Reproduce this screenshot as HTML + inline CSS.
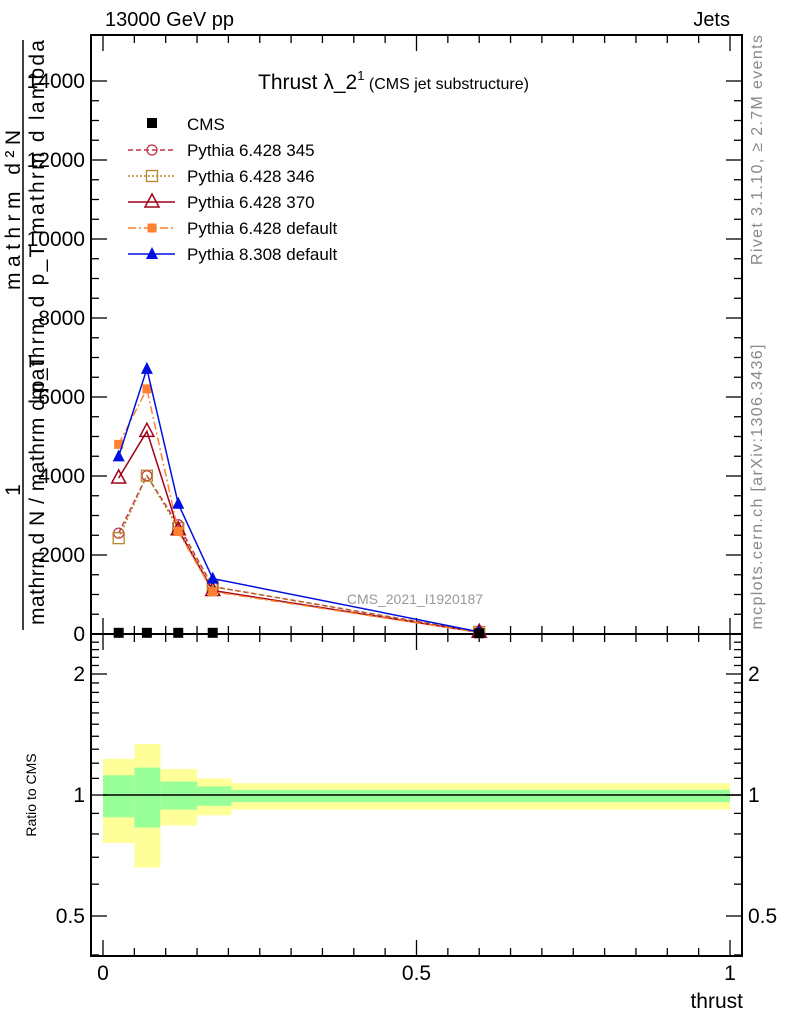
<!DOCTYPE html>
<html><head><meta charset="utf-8"><style>
html,body{margin:0;padding:0;background:#fff}
svg{display:block;font-family:"Liberation Sans",Arial,sans-serif}
</style></head><body>
<svg id="chart" width="786" height="1024" viewBox="0 0 786 1024" xmlns="http://www.w3.org/2000/svg">
<g id="bands"></g>
<g id="axes"></g>
<g id="series"></g>
<g id="legend"></g>
<text x="105" y="26" font-size="20">13000 GeV pp</text>
<text x="730" y="26" font-size="20" text-anchor="end">Jets</text>
<text x="258" y="89" font-size="21">Thrust λ_2<tspan font-size="13" dy="-9">1</tspan><tspan font-size="16" dy="9"> (CMS jet substructure)</tspan></text>
<text x="415" y="604" font-size="14" fill="#999" text-anchor="middle">CMS_2021_I1920187</text>
<text transform="translate(762,150) rotate(-90)" font-size="16" fill="#888" text-anchor="middle" textLength="230">Rivet 3.1.10, ≥ 2.7M events</text>
<text transform="translate(762,487) rotate(-90)" font-size="16" fill="#888" text-anchor="middle" textLength="285">mcplots.cern.ch [arXiv:1306.3436]</text>
<text x="743" y="1008" font-size="21" text-anchor="end">thrust</text>
<text transform="translate(36,795) rotate(-90)" font-size="14" text-anchor="middle">Ratio to CMS</text>
<g font-size="21">
<line x1="23" y1="40" x2="23" y2="630" stroke="#000" stroke-width="1.5"/>
<text transform="translate(20,490) rotate(-90)" text-anchor="middle">1</text>
<text transform="translate(44,490) rotate(-90)" text-anchor="middle" textLength="270">mathrm d N / mathrm d p_T</text>
<text transform="translate(20,210) rotate(-90)" text-anchor="middle" textLength="160">mathrm d²N</text>
<text transform="translate(44,220) rotate(-90)" text-anchor="middle" textLength="360">mathrm d p_T mathrm d lambda</text>
</g>
</svg>
<script>
const xCenters=[0.025,0.07,0.12,0.175,0.6];
const binEdges=[0,0.05,0.0915,0.15,0.205,1.0];
const cmsVals=[30,30,30,30,20];
const py345=[2554,4007,2765,1200,50];
const py346=[2427,4007,2680,1200,50];
const py370=[3949,5131,2638,1100,45];
const py6def=[4801,6206,2595,1073,40];
const py8def=[4497,6713,3297,1403,55];
const yelHi=[1.23,1.34,1.16,1.10,1.07];
const yelLo=[0.76,0.66,0.84,0.89,0.92];
const grnHi=[1.12,1.17,1.08,1.05,1.03];
const grnLo=[0.88,0.83,0.92,0.94,0.96];
const yTicks=[0,2000,4000,6000,8000,10000,12000,14000];
const yTickLabels=["0","2000","4000","6000","8000","10000","12000","14000"];
const xTicks=[0,0.5,1];
const xTickLabels=["0","0.5","1"];
const rTicks=[0.5,1,2];
const rTickLabels=["0.5","1","2"];

const NS="http://www.w3.org/2000/svg";
const L=91,R=742,T=35,MB=634,RB=956;
const X=v=>103+627*v;
const Y=v=>MB-v*(MB-81)/14000;
const RY=r=>795-121*Math.log2(r);
function el(tag,attrs,parent){const e=document.createElementNS(NS,tag);for(const k in attrs)e.setAttribute(k,attrs[k]);parent.appendChild(e);return e;}
const axes=document.getElementById('axes'),bands=document.getElementById('bands'),series=document.getElementById('series'),legend=document.getElementById('legend');

for(let i=0;i<xCenters.length;i++){
  const x0=X(binEdges[i]),x1=X(binEdges[i+1]);
  const y=el('rect',{x:x0,y:RY(yelHi[i]),width:x1-x0,height:RY(yelLo[i])-RY(yelHi[i]),fill:'#ffff99'},bands);
  
  
  const g=el('rect',{x:x0,y:RY(grnHi[i]),width:x1-x0,height:RY(grnLo[i])-RY(grnHi[i]),fill:'#99ff99'},bands);
  
  
}
const one=el('line',{x1:X(0),x2:R,y1:RY(1),y2:RY(1),stroke:'#000','stroke-width':1.5},bands);



for(const [t,b] of [[T,MB],[MB,RB]]){
  const f=el('rect',{x:L,y:t,width:R-L,height:b-t,fill:'none',stroke:'#000','stroke-width':2},axes);
  
  
}
for(let v=0;v<=14000;v+=500){
  const major=v%2000===0,len=major?16:8;
  el('line',{x1:L,x2:L+len,y1:Y(v),y2:Y(v),stroke:'#000','stroke-width':1.3},axes);
  el('line',{x1:R,x2:R-len,y1:Y(v),y2:Y(v),stroke:'#000','stroke-width':1.3},axes);
}
yTicks.forEach((v,i)=>{const t=el('text',{x:L-6,y:Y(v)+7,'font-size':21,'text-anchor':'end'},axes);t.textContent=yTickLabels[i];

});
for(let k=0;k<=20;k++){const v=k*0.05,major=k%10===0,len=major?16:8;
  for(const [b,tp] of [[MB,T],[RB,MB]]){
    el('line',{x1:X(v),x2:X(v),y1:b,y2:b-len,stroke:'#000','stroke-width':1.3},axes);
    el('line',{x1:X(v),x2:X(v),y1:tp,y2:tp+len,stroke:'#000','stroke-width':1.3},axes);
  }}
xTicks.forEach((v,i)=>{const t=el('text',{x:X(v),y:980,'font-size':21,'text-anchor':'middle'},axes);t.textContent=xTickLabels[i];

});
const rMinor=[0.4,0.5,0.6,0.7,0.8,0.9,1,1.1,1.2,1.3,1.4,1.5,1.6,1.7,1.8,1.9,2,2.1,2.2,2.3,2.4];
rMinor.forEach(r=>{const y=RY(r);if(y<MB||y>RB)return;const major=rTicks.includes(r),len=major?16:8;
  el('line',{x1:L,x2:L+len,y1:y,y2:y,stroke:'#000','stroke-width':1.3},axes);
  el('line',{x1:R,x2:R-len,y1:y,y2:y,stroke:'#000','stroke-width':1.3},axes);});
rTicks.forEach((r,i)=>{for(const [x,a] of [[L-6,'end'],[R+6,'start']]){const t=el('text',{x:x,y:RY(r)+7,'font-size':21,'text-anchor':a},axes);t.textContent=rTickLabels[i];

}});

function marker(g,type,x,y,c){
  if(type==='circle')el('circle',{cx:x,cy:y,r:5,fill:'none',stroke:c,'stroke-width':1.3},g);
  else if(type==='osq')el('rect',{x:x-5.5,y:y-5.5,width:11,height:11,fill:'none',stroke:c,'stroke-width':1.3},g);
  else if(type==='otri')el('polygon',{points:`${x},${y-8} ${x-7},${y+5} ${x+7},${y+5}`,fill:'none',stroke:c,'stroke-width':1.5},g);
  else if(type==='sq')el('rect',{x:x-4.5,y:y-4.5,width:9,height:9,fill:c},g);
  else if(type==='tri')el('polygon',{points:`${x},${y-7} ${x-6},${y+5} ${x+6},${y+5}`,fill:c},g);
}
const defs=[
 ['pythia-6428-345',py345,'#c0344a','5,3','circle','Pythia 6.428 345'],
 ['pythia-6428-346',py346,'#b8862b','2,2','osq','Pythia 6.428 346'],
 ['pythia-6428-370',py370,'#a0001a','','otri','Pythia 6.428 370'],
 ['pythia-6428-default',py6def,'#ff8030','8,3,2,3','sq','Pythia 6.428 default'],
 ['pythia-8308-default',py8def,'#0010e0','','tri','Pythia 8.308 default']];
defs.forEach(([name,vals,c,dash,m])=>{
  const g=el('g',{},series);
  
  
  el('polyline',{points:xCenters.map((x,i)=>X(x)+','+Y(vals[i])).join(' '),fill:'none',stroke:c,'stroke-width':1.5,'stroke-dasharray':dash},g);
  xCenters.forEach((x,i)=>marker(g,m,X(x),Y(vals[i]),c));
});
const cg=el('g',{},series);


xCenters.forEach((x,i)=>el('rect',{x:X(x)-5,y:Y(cmsVals[i])-5,width:10,height:10,fill:'#000'},cg));

const lg=el('g',{},legend);
el('rect',{x:147,y:118,width:10,height:10,fill:'#000'},lg);
const ct=el('text',{x:187,y:130,'font-size':17},lg);ct.textContent='CMS';


defs.forEach(([name,vals,c,dash,m,label],i)=>{
  const y=150+i*26;
  el('line',{x1:128,x2:175,y1:y,y2:y,stroke:c,'stroke-width':1.5,'stroke-dasharray':dash},lg);
  marker(lg,m,152,y,c);
  const t=el('text',{x:187,y:y+6,'font-size':17},lg);t.textContent=label;
  
  
});
</script>
</body></html>
